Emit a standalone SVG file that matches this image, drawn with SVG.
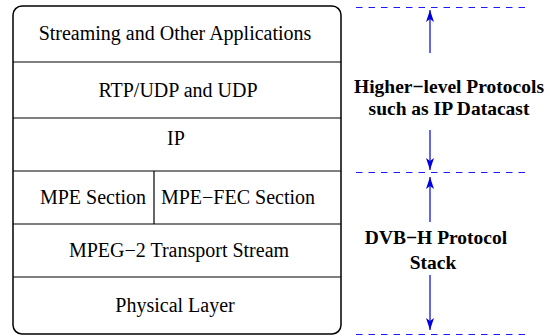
<svg xmlns="http://www.w3.org/2000/svg" width="550" height="336" viewBox="0 0 550 336">
<style>
.box{fill:#fff;stroke:#000;stroke-width:1.5}
.div{stroke:#000;stroke-width:1.2;fill:none}
.t{font-family:'Liberation Serif','Times New Roman',serif;font-size:20px;fill:#000;text-anchor:middle}
.b{font-family:'Liberation Serif','Times New Roman',serif;font-size:19.5px;font-weight:bold;fill:#000;text-anchor:middle}
.dash{stroke:#1a1aff;stroke-width:1;stroke-dasharray:6.5 6;fill:none}
.arr{stroke:#0000e0;stroke-width:1.2;fill:none;marker-end:url(#ah)}
</style>
<defs>
<marker id="ah" viewBox="0 0 12 8" refX="12" refY="4" markerWidth="12" markerHeight="8" markerUnits="userSpaceOnUse" orient="auto">
<path d="M0,0 L12,4 L0,8 L3,4 Z" fill="#0000e0"/>
</marker>
</defs>
<g id="stack">
<rect class="box" x="13" y="6" width="328" height="328" rx="9" ry="9"/>
</g>
<g id="dividers">
<line class="div" x1="13" y1="62" x2="341" y2="62"/>
<line class="div" x1="13" y1="118" x2="341" y2="118"/>
<line class="div" x1="13" y1="171" x2="341" y2="171"/>
<line class="div" x1="13" y1="224" x2="341" y2="224"/>
<line class="div" x1="13" y1="277" x2="341" y2="277"/>
<line class="div" x1="154" y1="171" x2="154" y2="224"/>
</g>
<g id="n-app"><text class="t" x="175" y="40">Streaming and Other Applications</text></g>
<g id="n-rtp"><text class="t" x="178" y="97">RTP/UDP and UDP</text></g>
<g id="n-ip"><text class="t" x="176" y="145">IP</text></g>
<g id="n-mpe"><text class="t" x="93" y="203.5">MPE Section</text></g>
<g id="n-mpefec"><text class="t" x="238" y="203.5">MPE−FEC Section</text></g>
<g id="n-ts"><text class="t" x="179" y="257">MPEG−2 Transport Stream</text></g>
<g id="n-phy"><text class="t" x="175" y="312">Physical Layer</text></g>
<g id="n-higher">
<text class="b" x="449" y="93">Higher−level Protocols</text>
<text class="b" x="449" y="115">such as IP Datacast</text>
</g>
<g id="n-dvbh">
<text class="b" x="436" y="244">DVB−H Protocol</text>
<text class="b" x="433" y="269">Stack</text>
</g>
<g id="connectors">
<line class="dash" x1="356" y1="7.5" x2="528" y2="7.5"/>
<line class="dash" x1="356" y1="172.5" x2="528" y2="172.5"/>
<line class="dash" x1="356" y1="334.5" x2="528" y2="334.5"/>
<line class="arr" x1="430" y1="53" x2="430" y2="10"/>
<line class="arr" x1="430" y1="130" x2="430" y2="170"/>
<line class="arr" x1="430" y1="222" x2="430" y2="177"/>
<line class="arr" x1="430" y1="275" x2="430" y2="330"/>
</g>
</svg>
